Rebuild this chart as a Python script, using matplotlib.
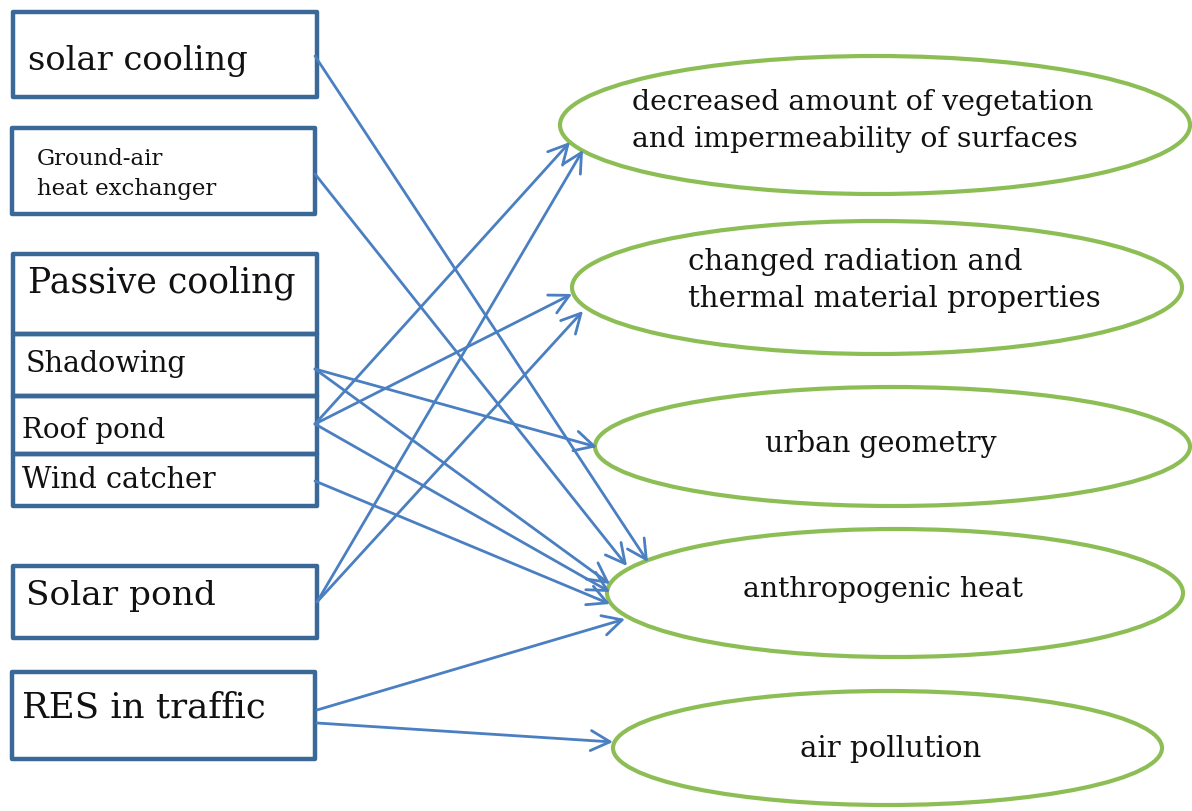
import matplotlib
matplotlib.use('Agg')
import matplotlib.pyplot as plt
from matplotlib.patches import Rectangle, Ellipse, FancyArrowPatch, ArrowStyle

# measures (left boxes) and causes (right ellipses)
measures = ['solar cooling', 'Ground-air\nheat exchanger', 'Passive cooling',
            'Shadowing', 'Roof pond', 'Wind catcher', 'Solar pond', 'RES in traffic']
causes = ['decreased amount of vegetation\nand impermeability of surfaces',
          'changed radiation and\nthermal material properties',
          'urban geometry', 'anthropogenic heat', 'air pollution']
# which measure acts on which cause (indices into the lists above)
links = [(0, 3), (1, 3), (3, 2), (3, 3), (4, 0), (4, 1), (4, 3),
         (5, 3), (6, 0), (6, 1), (7, 3), (7, 4)]

# ---- layout (pixels, y down) ----
W, H = 1192, 812
box_xy = [(13, 13, 317, 98), (12, 129, 315, 215), (13, 255, 317, 335),
          (13, 335, 317, 397), (13, 397, 317, 455), (13, 455, 317, 507),
          (13, 567, 317, 639), (12, 673, 315, 760)]
# text: x, baselines, target width of longest line
box_txt = [(28, [70], 219), (37, [165, 195], 180), (28, [293], 267),
           (26, [372], 161), (22, [438], 143), (22, [488], 194),
           (26, [605], 189), (22, [718], 244)]
ell = [(560, 57, 1190, 195), (572, 222, 1182, 355), (595, 388, 1190, 507),
       (607, 530, 1183, 658), (613, 692, 1162, 806)]
ell_txt = [(632, 'left', [110, 147], 463), (688, 'left', [270, 307], 412),
           (881, 'center', [452], 232), (883, 'center', [597], 281),
           (891, 'center', [757], 181)]
# arrow start (on box edge) for each measure, second start for RES -> air pollution
starts = {0: (315, 57), 1: (315, 175), 3: (315, 370), 4: (315, 425),
          5: (315, 482), 6: (317, 603), 7: (317, 711)}
res_start_2 = (317, 724)
# arrow tip at the ellipse, one per link
tips = [(648, 563), (627, 567), (597, 448), (610, 585), (570, 143), (572, 295),
        (610, 593), (610, 605), (583, 151), (583, 312), (625, 620), (613, 743)]

box_col = '#3A6897'
ell_col = '#8DBE55'
arr_col = '#4A7FC1'
font = 'DejaVu Serif'

fig = plt.figure(figsize=(W / 100, H / 100), dpi=100)
ax = fig.add_axes([0, 0, 1, 1])
ax.set_xlim(0, W)
ax.set_ylim(H, 0)
ax.axis('off')
r = fig.canvas.get_renderer()


def put_lines(x, ys, label, width, ha='left'):
    # size the font so the longest line gets the wanted pixel width
    lines = label.split('\n')
    longest = max(lines, key=len)
    t = ax.text(x, ys[0], longest, fontsize=20, family=font)
    size = 20 * width / t.get_window_extent(r).width
    t.remove()
    for s, y in zip(lines, ys):
        ax.text(x, y, s, ha=ha, va='baseline', fontsize=size, family=font,
                color='#111111', zorder=5)


for (x0, y0, x1, y1), label, (tx, ys, tw) in zip(box_xy, measures, box_txt):
    ax.add_patch(Rectangle((x0, y0), x1 - x0, y1 - y0, fill=False, ec=box_col,
                           lw=3.2, joinstyle='round', zorder=3))
    put_lines(tx, ys, label, tw)

for (x0, y0, x1, y1), label, (tx, ha, ys, tw) in zip(ell, causes, ell_txt):
    ax.add_patch(Ellipse(((x0 + x1) / 2, (y0 + y1) / 2), x1 - x0, y1 - y0,
                         fill=False, ec=ell_col, lw=3.0, zorder=2))
    put_lines(tx, ys, label, tw, ha)

style = ArrowStyle('->', head_length=1.15, head_width=0.6)
for (src, dst), tip in zip(links, tips):
    start = starts[src]
    if src == 7 and dst == 4:
        start = res_start_2
    ax.add_patch(FancyArrowPatch(start, tip, arrowstyle=style, mutation_scale=12,
                                 color=arr_col, lw=2.0, shrinkA=0, shrinkB=0,
                                 zorder=4))

fig.savefig('out.png', dpi=100, facecolor='white')
